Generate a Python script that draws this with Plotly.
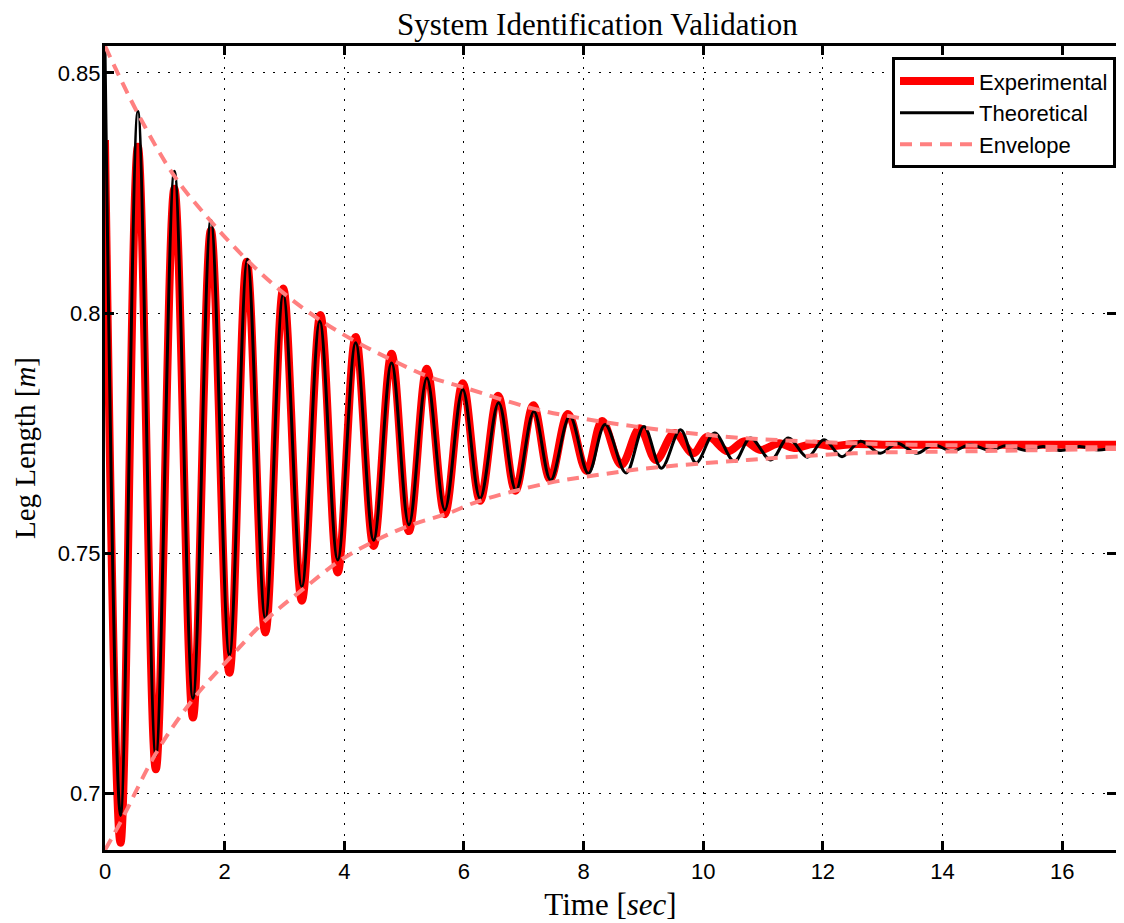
import plotly.graph_objects as go

# ---- Data (time in s, leg length in m) ----
exp_t = [0.00, 0.26, 0.55, 0.85, 1.16, 1.47, 1.77, 2.08, 2.37, 2.68, 2.98, 3.29,
         3.60, 3.89, 4.19, 4.49, 4.79, 5.08, 5.38, 5.68, 5.98, 6.27, 6.57, 6.86,
         7.16, 7.44, 7.74, 8.05, 8.31, 8.63, 8.94, 9.21, 9.52, 9.83, 10.08, 10.41,
         10.69, 10.96, 11.27, 11.52, 11.85, 12.15, 12.50, 13.00, 14.00, 15.00,
         16.00, 16.90]
exp_y = [0.8360, 0.6897, 0.8346, 0.7050, 0.8259, 0.7158, 0.8172, 0.7251, 0.8107,
         0.7335, 0.8051, 0.7401, 0.7996, 0.7460, 0.7950, 0.7515, 0.7915, 0.7546,
         0.7884, 0.7581, 0.7854, 0.7609, 0.7828, 0.7630, 0.7808, 0.7654, 0.7790,
         0.7671, 0.7775, 0.7684, 0.7760, 0.7694, 0.7750, 0.7708, 0.7743, 0.7712,
         0.7733, 0.7715, 0.7729, 0.7719, 0.7728, 0.7723, 0.7727, 0.7726, 0.7726,
         0.7726, 0.7726, 0.7726]

theo_t = [0.00, 0.26, 0.55, 0.85, 1.16, 1.47, 1.77, 2.08, 2.38, 2.68, 2.98, 3.29,
          3.59, 3.89, 4.19, 4.49, 4.79, 5.08, 5.38, 5.68, 5.98, 6.27, 6.58, 6.87,
          7.17, 7.45, 7.77, 8.08, 8.36, 8.71, 9.01, 9.30, 9.62, 9.88, 10.19, 10.52,
          10.79, 11.13, 11.42, 11.74, 12.02, 12.32, 12.63, 12.96, 13.24, 13.57,
          13.85, 14.16, 14.46, 14.80, 15.07, 15.40, 15.68, 15.98, 16.29, 16.60, 16.90]
theo_y = [0.8550, 0.6954, 0.8420, 0.7079, 0.8295, 0.7198, 0.8193, 0.7288, 0.8112,
          0.7364, 0.8039, 0.7430, 0.7983, 0.7486, 0.7938, 0.7527, 0.7896, 0.7559,
          0.7865, 0.7590, 0.7841, 0.7614, 0.7813, 0.7631, 0.7795, 0.7652, 0.7785,
          0.7666, 0.7768, 0.7667, 0.7764, 0.7677, 0.7757, 0.7688, 0.7750, 0.7691,
          0.7740, 0.7694, 0.7740, 0.7700, 0.7736, 0.7701, 0.7733, 0.7708, 0.7729,
          0.7708, 0.7726, 0.7712, 0.7726, 0.7714, 0.7724, 0.7714, 0.7722, 0.7714,
          0.7722, 0.7715, 0.7720]

env_up_t = [0.00, 0.56, 1.16, 1.77, 2.37, 2.98, 3.60, 4.20, 4.80, 5.40, 6.00, 7.13,
            8.00, 8.85, 9.70, 10.63, 11.50, 12.50, 13.50, 14.50, 15.50, 16.90]
env_up_y = [0.8556, 0.8413, 0.8285, 0.8191, 0.8111, 0.8042, 0.7985, 0.7940, 0.7902,
            0.7868, 0.7845, 0.7802, 0.7780, 0.7764, 0.7751, 0.7740, 0.7734, 0.7729,
            0.7726, 0.7724, 0.7722, 0.7720]

env_lo_t = [0.00, 0.26, 0.85, 1.46, 2.08, 2.69, 3.30, 3.91, 4.50, 5.10, 5.74, 6.24,
            7.41, 8.30, 9.08, 10.74, 12.52, 14.35, 16.90]
env_lo_y = [0.6882, 0.6940, 0.7083, 0.7194, 0.7281, 0.7361, 0.7424, 0.7483, 0.7525,
            0.7558, 0.7583, 0.7608, 0.7646, 0.7664, 0.7677, 0.7694, 0.7708, 0.7712,
            0.7717]

x_ticks = [0, 2, 4, 6, 8, 10, 12, 14, 16]
y_ticks = [0.7, 0.75, 0.8, 0.85]
y_tick_text = ["0.7", "0.75", "0.8", "0.85"]

SERIF = "Liberation Serif, Times New Roman, serif"
SANS = "Liberation Sans, Arial, Helvetica, sans-serif"
ENV_COLOR = "#ff8080"

fig = go.Figure()
fig.add_trace(go.Scatter(x=exp_t, y=exp_y, mode="lines", name="Experimental",
                         line=dict(color="#ff0000", width=8, shape="spline", smoothing=1.0)))
fig.add_trace(go.Scatter(x=theo_t, y=theo_y, mode="lines", name="Theoretical",
                         line=dict(color="#000000", width=3, shape="spline", smoothing=1.0)))
fig.add_trace(go.Scatter(x=env_up_t, y=env_up_y, mode="lines", name="Envelope",
                         legendgroup="env",
                         line=dict(color=ENV_COLOR, width=4, dash="12px,8px",
                                   shape="spline", smoothing=1.0)))
fig.add_trace(go.Scatter(x=env_lo_t, y=env_lo_y, mode="lines", name="Envelope",
                         legendgroup="env", showlegend=False,
                         line=dict(color=ENV_COLOR, width=4, dash="12px,8px",
                                   shape="spline", smoothing=1.0)))

axis_common = dict(
    showline=True, linewidth=3, linecolor="black", mirror="ticks",
    ticks="inside", ticklen=9, tickwidth=3, tickcolor="black",
    showgrid=True, gridcolor="black", gridwidth=1, griddash="2px,8.5px",
    zeroline=False, tickfont=dict(family=SANS, size=22, color="black"),
)

# the page body adds an 8px offset, so the figure is 8px smaller on each axis
fig.update_layout(
    width=1116, height=915, autosize=False,
    margin=dict(l=97, r=5, t=38, b=73),
    paper_bgcolor="white", plot_bgcolor="white",
    title=dict(text="System Identification Validation",
               font=dict(family=SERIF, size=31, color="black"),
               x=0.487, xref="paper", xanchor="center",
               y=1 - 16.5 / 915, yref="container", yanchor="middle"),
    xaxis=dict(range=[0, 16.9], tickvals=x_ticks,
               title=dict(text="Time [<i>sec</i>]", standoff=10,
                          font=dict(family=SERIF, size=31, color="black")),
               **axis_common),
    yaxis=dict(range=[0.6882, 0.8556], tickvals=y_ticks, ticktext=y_tick_text,
               ticklabelstandoff=-3,
               title=dict(text="Leg Length [<i>m</i>]", standoff=14,
                          font=dict(family=SERIF, size=29, color="black")),
               **axis_common),
    legend=dict(x=1.0, y=0.986, xanchor="right", yanchor="top",
                bgcolor="white", bordercolor="black", borderwidth=3,
                font=dict(family=SANS, size=22, color="black"),
                itemwidth=74, tracegroupgap=0),
    showlegend=True,
)

fig.write_html("out.html")
